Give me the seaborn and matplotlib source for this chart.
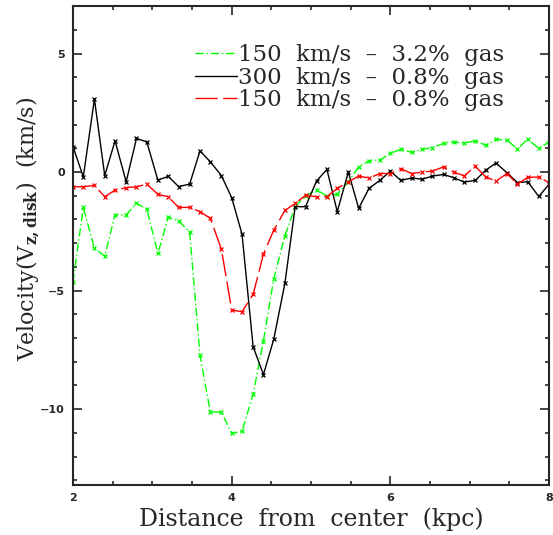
import seaborn as sns
import matplotlib.pyplot as plt
from matplotlib.lines import Line2D
from matplotlib.ticker import MultipleLocator

# radial bins (kpc)
dist = [2.00, 2.13, 2.27, 2.40, 2.53, 2.67, 2.80, 2.93, 3.07, 3.20, 3.33, 3.47,
        3.60, 3.73, 3.87, 4.00, 4.13, 4.27, 4.40, 4.53, 4.67, 4.80, 4.93, 5.07,
        5.20, 5.33, 5.47, 5.60, 5.73, 5.87, 6.00, 6.13, 6.27, 6.40, 6.53, 6.67,
        6.80, 6.93, 7.07, 7.20, 7.33, 7.47, 7.60, 7.73, 7.87, 8.00]

# 150 km/s - 3.2% gas
vz_150_32 = [-4.63, -1.49, -3.22, -3.54, -1.80, -1.80, -1.32, -1.56, -3.43, -1.91, -2.05, -2.53,
             -7.72, -10.12, -10.12, -11.02, -10.94, -9.37, -7.12, -4.50, -2.69, -1.46, -1.00, -0.75,
             -1.01, -0.93, -0.41, 0.22, 0.48, 0.51, 0.79, 0.96, 0.83, 0.96, 1.03, 1.21,
             1.27, 1.22, 1.32, 1.13, 1.38, 1.35, 0.97, 1.39, 1.00, 1.28]

# 300 km/s - 0.8% gas
vz_300_08 = [1.07, -0.20, 3.08, -0.15, 1.32, -0.41, 1.42, 1.27, -0.34, -0.18, -0.61, -0.51,
             0.89, 0.44, -0.15, -1.08, -2.62, -7.37, -8.54, -7.05, -4.70, -1.46, -1.46, -0.37,
             0.11, -1.67, 0.00, -1.53, -0.69, -0.34, 0.04, -0.35, -0.25, -0.30, -0.17, -0.10,
             -0.24, -0.42, -0.35, 0.08, 0.38, -0.03, -0.44, -0.41, -1.03, -0.51]

# 150 km/s - 0.8% gas
vz_150_08 = [-0.62, -0.62, -0.56, -1.04, -0.76, -0.66, -0.62, -0.51, -0.94, -1.04, -1.49, -1.49,
             -1.67, -1.95, -3.25, -5.82, -5.89, -5.16, -3.46, -2.45, -1.62, -1.32, -0.98, -1.04,
             -1.04, -0.69, -0.41, -0.17, -0.25, -0.06, -0.06, 0.14, -0.06, 0.00, 0.04, 0.22,
             0.00, -0.16, 0.24, -0.20, -0.38, -0.06, -0.51, -0.22, -0.21, -0.45]

labels = ["150  km/s  \u2013  3.2%  gas", "300  km/s  \u2013  0.8%  gas", "150  km/s  \u2013  0.8%  gas"]
colors = ["#00ff00", "black", "#ff0000"]
styles = [(0, (6, 2, 1, 2)), "-", (0, (16, 4))]

sns.set_style("ticks")
plt.rcParams["font.family"] = ["DejaVu Serif"]
plt.rcParams["mathtext.fontset"] = "dejavuserif"

fig = plt.figure(figsize=(5.53, 5.35), dpi=100)
ax = fig.add_axes([0.132, 0.0935, 0.861, 0.895])

for yv, c, ls in zip([vz_150_32, vz_300_08, vz_150_08], colors, styles):
    sns.lineplot(x=dist, y=yv, ax=ax, color=c, lw=1.0, linestyle=ls,
                 marker="x", markersize=3, markeredgewidth=0.9, markeredgecolor=c,
                 errorbar=None)

ax.set_xlim(2, 8)
ax.set_ylim(-13.2, 7.0)
ax.xaxis.set_major_locator(MultipleLocator(2))
ax.xaxis.set_minor_locator(MultipleLocator(0.5))
ax.yaxis.set_major_locator(MultipleLocator(5))
ax.yaxis.set_minor_locator(MultipleLocator(1))
ax.tick_params(which="both", direction="in", top=True, right=True, width=1.2)
ax.tick_params(which="major", length=6.5, pad=6)
ax.tick_params(which="minor", length=3)
for lab in ax.get_xticklabels() + ax.get_yticklabels():
    lab.set_family("DejaVu Sans")
    lab.set_fontsize(8)
    lab.set_fontweight("bold")
for s in ax.spines.values():
    s.set_linewidth(1.5)

ax.set_xlabel("Distance  from  center  (kpc)", fontsize=17, labelpad=3)
ax.set_ylabel(r"Velocity(V$_{\mathbf{z,disk}}$)  (km/s)", fontsize=16)
ax.yaxis.set_label_coords(-0.066, 0.535)

handles = [Line2D([], [], color=c, lw=1.0, linestyle=ls) for c, ls in zip(colors, styles)]
ax.legend(handles, labels, loc="upper left", bbox_to_anchor=(0.232, 0.945),
          frameon=False, fontsize=16.5, handlelength=1.83, handletextpad=0.05,
          labelspacing=0.03, borderpad=0)

fig.savefig("out.png", dpi=100)
